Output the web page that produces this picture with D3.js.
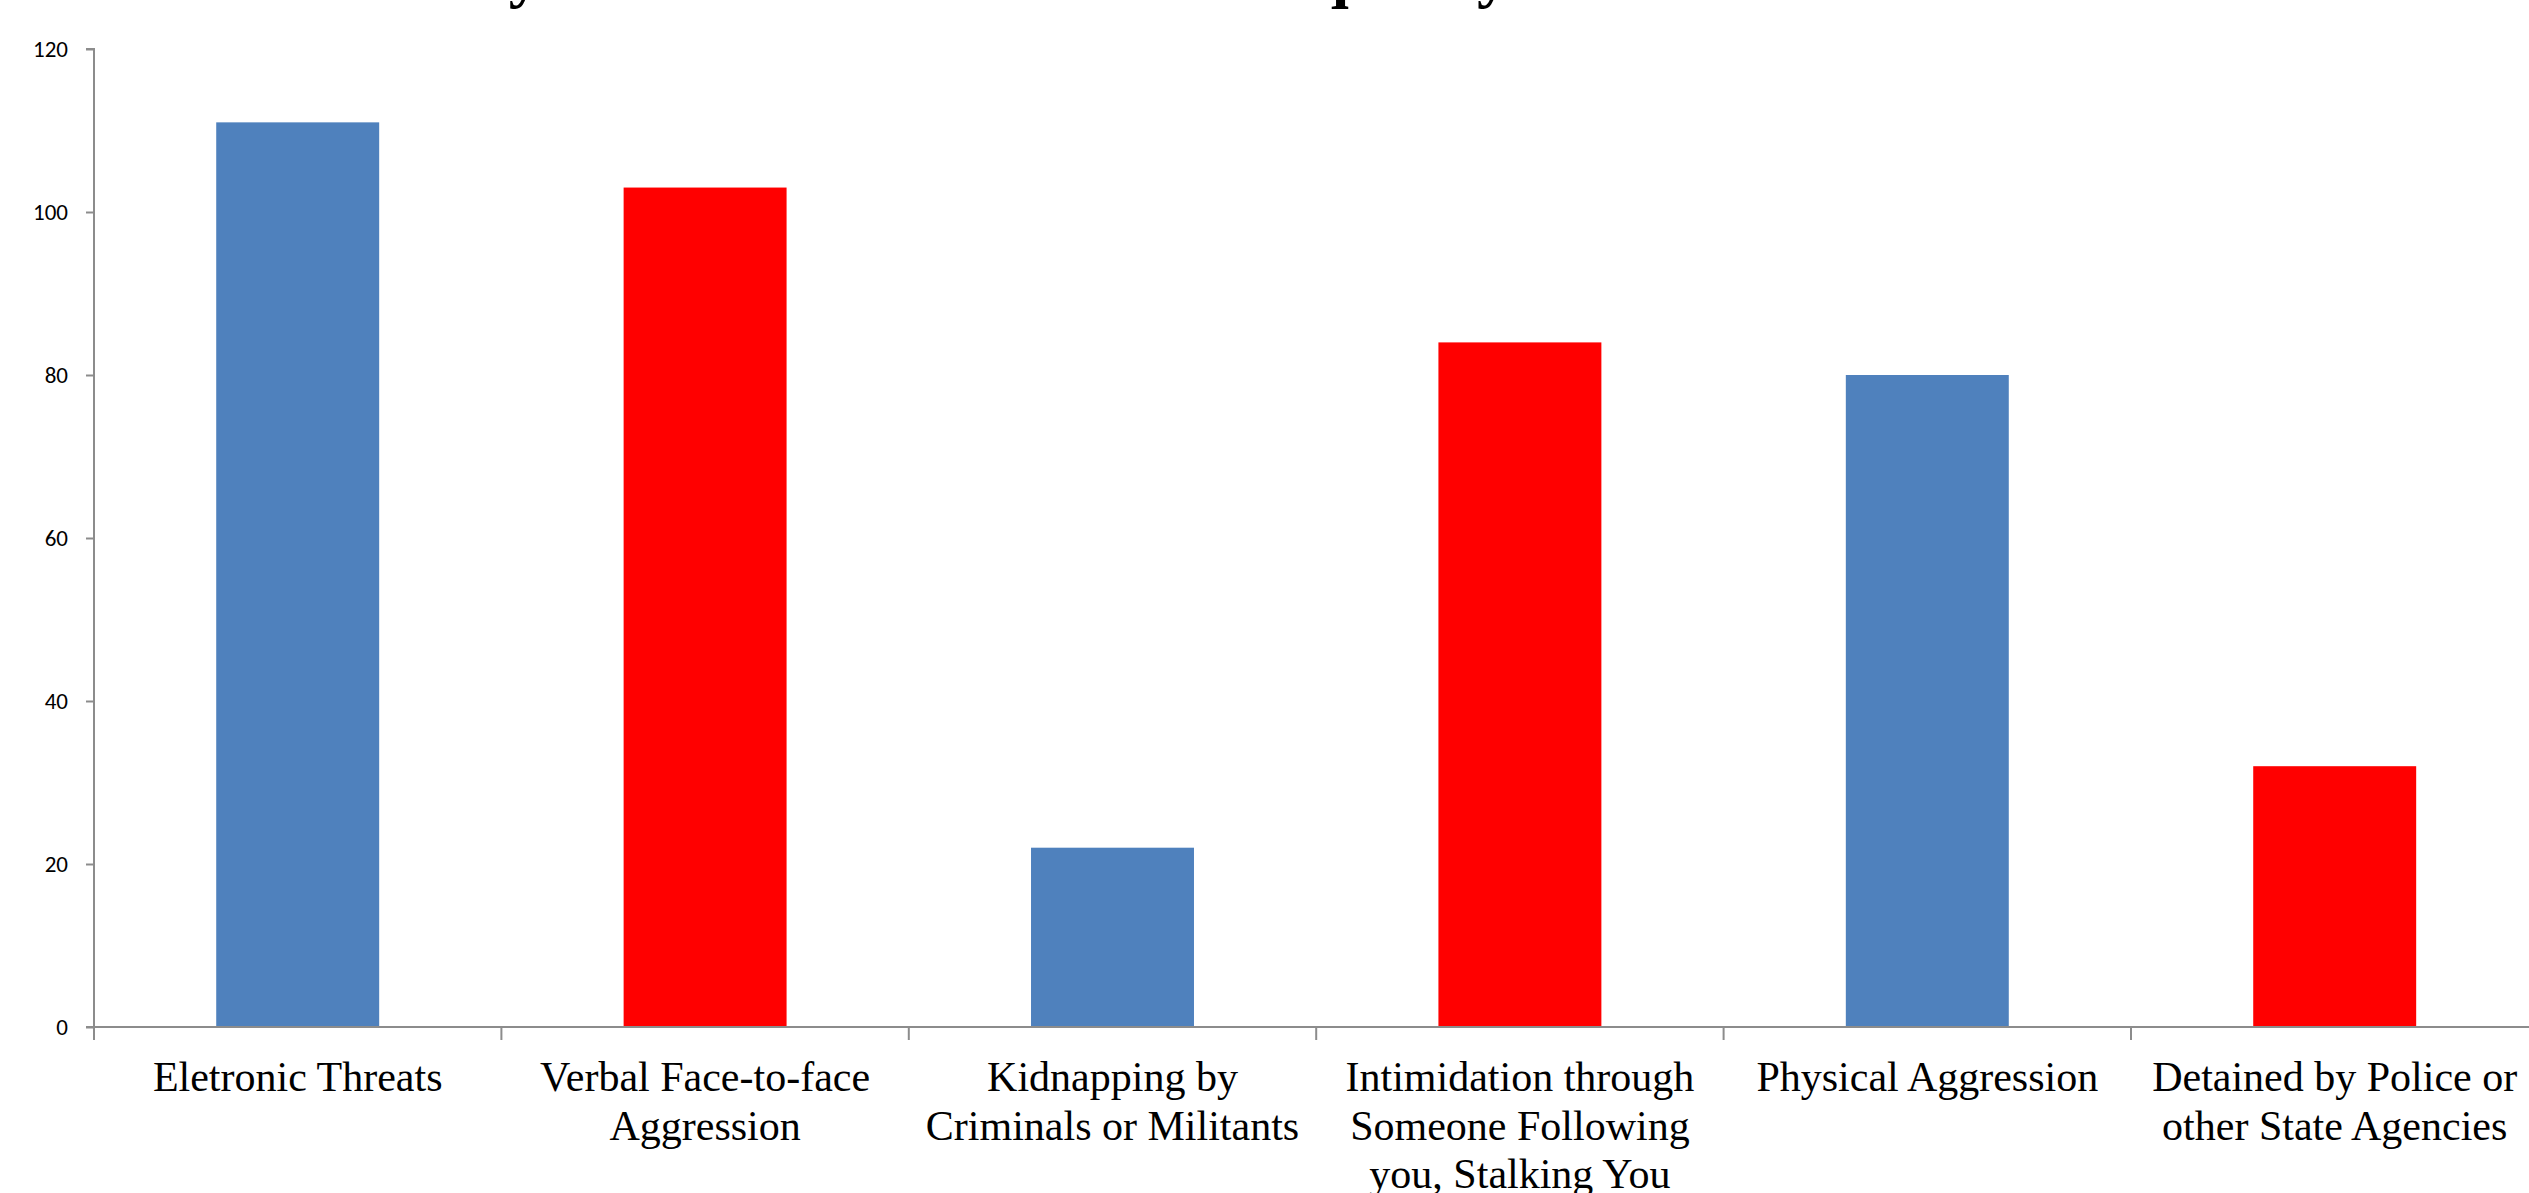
<!DOCTYPE html>
<html>
<head>
<meta charset="utf-8">
<script src="https://cdn.jsdelivr.net/npm/d3@7"></script>
<style>
  html, body { margin: 0; padding: 0; background: #ffffff; overflow: hidden; }
  svg { display: block; }
</style>
</head>
<body>
<script>
// Reported incidents by type of aggression
const categories = [
  "Eletronic Threats",
  "Verbal Face-to-face Aggression",
  "Kidnapping by Criminals or Militants",
  "Intimidation through Someone Following you, Stalking You",
  "Physical Aggression",
  "Detained by Police or other State Agencies"
];
const counts = [111, 103, 22, 84, 80, 32];
const barColors = ["#4F81BD", "#FF0000", "#4F81BD", "#FF0000", "#4F81BD", "#FF0000"];
const yTicks = [0, 20, 40, 60, 80, 100, 120];
const titleText = "Attacks Suffered by Media Staff in Order of Frequency";

const W = 2529, H = 1193;
const plot = { left: 94, right: 2538.4, top: 49, bottom: 1027 };

const svg = d3.select("body").append("svg")
  .attr("width", W).attr("height", H);

const x = d3.scaleBand()
  .domain(categories)
  .range([plot.left, plot.right])
  .paddingInner(0.6)
  .paddingOuter(0.3);

const xBoundary = d3.scaleBand()
  .domain(categories)
  .range([plot.left, plot.right])
  .padding(0);

const y = d3.scaleLinear()
  .domain([0, 120])
  .range([plot.bottom, plot.top]);

// Title (runs off the top edge)
const title = svg.append("text")
  .attr("x", 0)
  .attr("y", -5)
  .style("font-family", "'Liberation Serif', 'Times New Roman', serif")
  .style("font-weight", "bold")
  .style("font-size", "64px")
  .attr("fill", "#000")
  .text(titleText);
{
  const node = title.node();
  const iy = titleText.indexOf("by ") + 1;
  const iq = titleText.indexOf("Frequency") + 3;
  const py = node.getStartPositionOfChar(iy).x;
  const pq = node.getStartPositionOfChar(iq).x;
  const shift = ((520 - py) + (1302 - pq)) / 2;
  title.attr("x", shift);
}

// Bars
svg.append("g").selectAll("rect")
  .data(categories)
  .join("rect")
  .attr("x", d => x(d))
  .attr("width", x.bandwidth())
  .attr("y", (d, i) => y(counts[i]))
  .attr("height", (d, i) => y(0) - y(counts[i]))
  .attr("fill", (d, i) => barColors[i]);

const axisColor = "#8C8C8C";

// Y axis
const yAxis = svg.append("g")
  .attr("transform", `translate(${plot.left},0)`)
  .call(d3.axisLeft(y).tickValues(yTicks).tickSize(8).tickPadding(18).tickFormat(d3.format("d")));
yAxis.select(".domain").attr("stroke", axisColor).attr("stroke-width", 2)
  .attr("d", `M-8,${plot.top}H0V${plot.bottom}`);
yAxis.selectAll(".tick line").attr("stroke", axisColor).attr("stroke-width", 2);
yAxis.selectAll(".tick text")
  .style("font-family", "Carlito, Calibri, Lato, 'Open Sans', sans-serif")
  .style("font-size", "23px")
  .attr("fill", "#000");

// X axis line and category boundary ticks
const xAxisG = svg.append("g");
xAxisG.append("line")
  .attr("x1", plot.left - 8).attr("x2", W)
  .attr("y1", y(0)).attr("y2", y(0))
  .attr("stroke", axisColor).attr("stroke-width", 2);
xAxisG.selectAll("line.cat-tick")
  .data(categories)
  .join("line")
  .attr("class", "cat-tick")
  .attr("x1", d => xBoundary(d)).attr("x2", d => xBoundary(d))
  .attr("y1", y(0)).attr("y2", y(0) + 13)
  .attr("stroke", axisColor).attr("stroke-width", 2);

// Category labels, wrapped to the band width
const labelFont = "'Liberation Serif', 'Times New Roman', serif";
const labels = svg.append("g").selectAll("text")
  .data(categories)
  .join("text")
  .attr("text-anchor", "middle")
  .attr("x", d => xBoundary(d) + xBoundary.bandwidth() / 2)
  .attr("y", y(0) + 64)
  .style("font-family", labelFont)
  .style("font-size", "42px")
  .attr("fill", "#000");

labels.each(function(d) {
  const t = d3.select(this);
  const cx = +t.attr("x");
  const words = d.split(" ");
  const maxW = 392;
  let lines = [];
  let cur = [];
  const probe = t.append("tspan");
  words.forEach(w => {
    const trial = cur.concat([w]).join(" ");
    probe.text(trial);
    if (probe.node().getComputedTextLength() > maxW && cur.length) {
      lines.push(cur.join(" "));
      cur = [w];
    } else {
      cur.push(w);
    }
  });
  if (cur.length) lines.push(cur.join(" "));
  probe.remove();
  lines.forEach((ln, i) => {
    t.append("tspan")
      .attr("x", cx)
      .attr("dy", i === 0 ? 0 : 48.7)
      .text(ln);
  });
});
</script>
</body>
</html>
